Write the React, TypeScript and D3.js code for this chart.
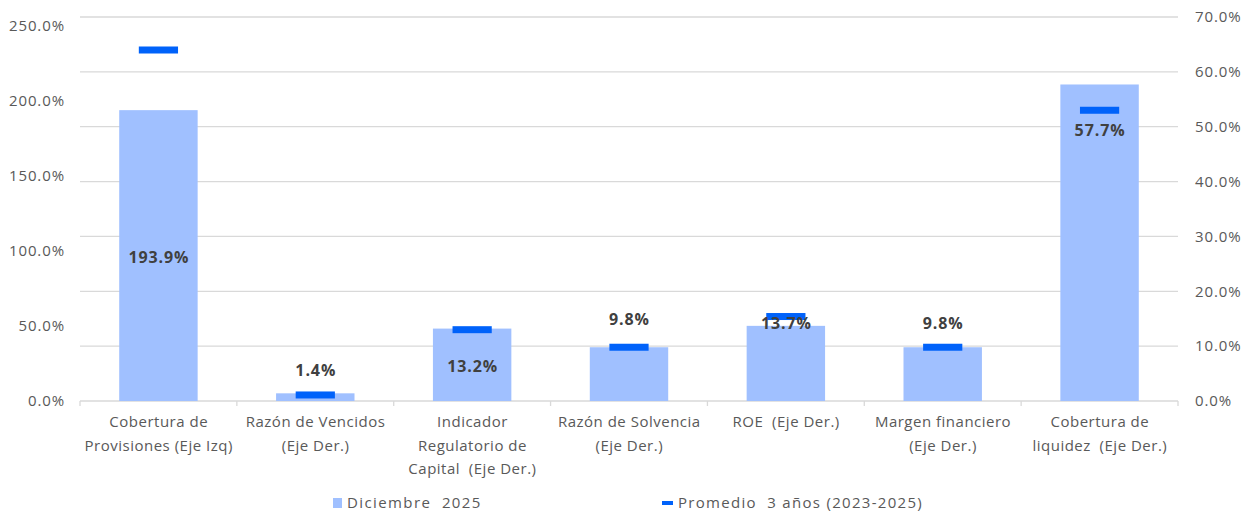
import React from "react";
import * as d3 from "d3";

const categories: string[][] = [
  ["Cobertura de", "Provisiones (Eje Izq)"],
  ["Razón de Vencidos", "(Eje Der.)"],
  ["Indicador", "Regulatorio de", "Capital  (Eje Der.)"],
  ["Razón de Solvencia", "(Eje Der.)"],
  ["ROE  (Eje Der.)"],
  ["Margen financiero", "(Eje Der.)"],
  ["Cobertura de", "liquidez  (Eje Der.)"],
];
const axisSide: ("left" | "right")[] = ["left", "right", "right", "right", "right", "right", "right"];
const diciembre2025: number[] = [193.9, 1.4, 13.2, 9.8, 13.7, 9.8, 57.7];
const promedio3Anios: number[] = [234, 1.1, 13.0, 9.8, 15.4, 9.8, 53.0];
// value (in the bar's own axis units) at which each data label is centred
const labelAt: number[] = [96, 5.6, 6.3, 14.9, 14.2, 14.2, 49.4];
const leftTicks: number[] = [0, 50, 100, 150, 200, 250];
const rightTicks: number[] = [0, 10, 20, 30, 40, 50, 60, 70];
const legendLabels = ["Diciembre  2025", "Promedio  3 años (2023-2025)"];

const W = 1246;
const H = 516;
const M = { left: 80, right: 1178, top: 17, bottom: 401 };
const FONT = "'Open Sans', 'Noto Sans', sans-serif";
const BAR = "#A0C0FF";
const MARK = "#0062FA";
const GRID = "#D9D9D9";
const TXT = "#595959";

export default function App() {
  const x = d3
    .scaleBand<number>()
    .domain(d3.range(categories.length))
    .range([M.left, M.right])
    .paddingInner(0.5)
    .paddingOuter(0.25);
  const step = x.step();
  const yLeft = d3.scaleLinear().domain([0, 256]).range([M.bottom, M.top]);
  const yRight = d3.scaleLinear().domain([0, 70]).range([M.bottom, M.top]);
  const yOf = (i: number) => (axisSide[i] === "left" ? yLeft : yRight);
  const fmt = (v: number) => d3.format(".1f")(v) + "%";
  const markW = x.bandwidth() * 0.5;
  const markH = 7;

  return (
    <svg width={W} height={H} style={{ position: "absolute", left: 0, top: 0, background: "#fff" }} fontFamily={FONT}>
      <rect x={0} y={0} width={W} height={H} fill="#fff" />
      {/* gridlines (right axis ticks) */}
      {rightTicks.map((t) => (
        <line key={"g" + t} x1={M.left} x2={M.right} y1={yRight(t)} y2={yRight(t)} stroke={GRID} strokeWidth={1.3} />
      ))}
      {/* category tick marks */}
      {d3.range(categories.length + 1).map((i) => (
        <line
          key={"ct" + i}
          x1={M.left + i * step}
          x2={M.left + i * step}
          y1={M.bottom}
          y2={M.bottom + 5}
          stroke={GRID}
          strokeWidth={1.3}
        />
      ))}
      {/* left ticks */}
      {leftTicks.map((t) => (
        <text key={"l" + t} x={65} y={yLeft(t)} dy="0.35em" textAnchor="end" fontSize={15} letterSpacing={0.9} fill={TXT}>
          {fmt(t)}
        </text>
      ))}
      {/* right ticks */}
      {rightTicks.map((t) => (
        <text key={"r" + t} x={1195} y={yRight(t)} dy="0.35em" textAnchor="start" fontSize={15} letterSpacing={0.9} fill={TXT}>
          {fmt(t)}
        </text>
      ))}
      {/* bars */}
      {diciembre2025.map((v, i) => {
        const y = yOf(i);
        return <rect key={"b" + i} x={x(i)} y={y(v)} width={x.bandwidth()} height={y(0) - y(v)} fill={BAR} />;
      })}
      {/* average markers */}
      {promedio3Anios.map((v, i) => {
        const y = yOf(i);
        const cx = (x(i) as number) + x.bandwidth() / 2;
        return <rect key={"m" + i} x={cx - markW / 2} y={y(v) - markH / 2} width={markW} height={markH} fill={MARK} />;
      })}
      {/* data labels */}
      {diciembre2025.map((v, i) => {
        const y = yOf(i);
        const cx = (x(i) as number) + x.bandwidth() / 2;
        return (
          <text
            key={"dl" + i}
            x={cx + 0.5}
            y={y(labelAt[i])}
            dy="0.35em"
            textAnchor="middle"
            fontSize={16}
            letterSpacing={0.9}
            fontWeight="bold"
            fill="#404040"
          >
            {fmt(v)}
          </text>
        );
      })}
      {/* category labels */}
      {categories.map((lines, i) => {
        const cx = (x(i) as number) + x.bandwidth() / 2 + 0.3;
        return (
          <text
            key={"c" + i}
            x={cx}
            y={422}
            textAnchor="middle"
            fontSize={15}
            letterSpacing={0.5}
            fill={TXT}
            style={{ whiteSpace: "pre" }}
          >
            {lines.map((ln, j) => (
              <tspan key={j} x={cx} y={422 + j * 23.5} dy="0.35em">
                {ln}
              </tspan>
            ))}
          </text>
        );
      })}
      {/* legend */}
      <rect x={333} y={498} width={9} height={10} fill={BAR} />
      <text x={347} y={503} dy="0.35em" fontSize={15} letterSpacing={1.4} fill={TXT} style={{ whiteSpace: "pre" }}>
        {legendLabels[0]}
      </text>
      <rect x={662} y={501} width={11} height={4} fill={MARK} />
      <text x={678} y={503} dy="0.35em" fontSize={15} letterSpacing={1.3} fill={TXT} style={{ whiteSpace: "pre" }}>
        {legendLabels[1]}
      </text>
    </svg>
  );
}
